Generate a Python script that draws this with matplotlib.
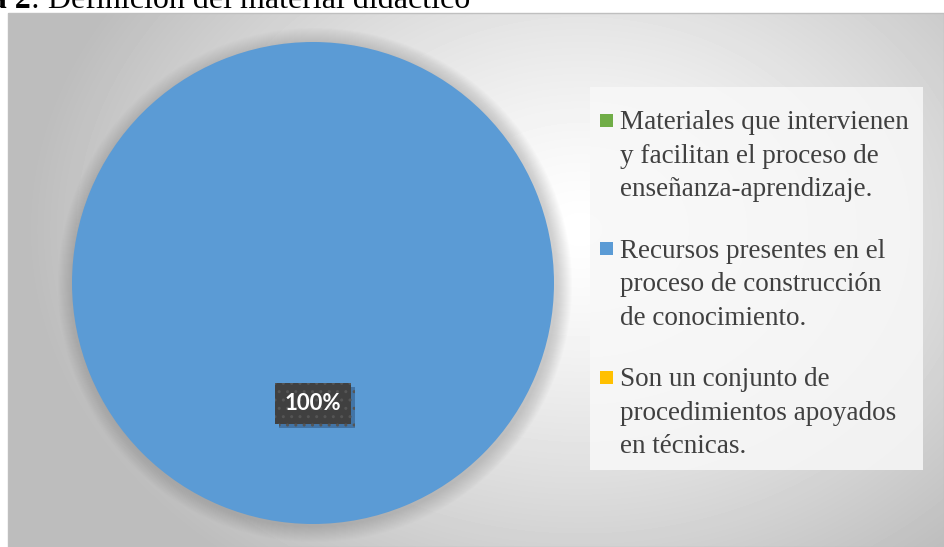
import numpy as np
import matplotlib.pyplot as plt
import matplotlib.patheffects as pe
from matplotlib.patches import Rectangle, Circle

categorias = ["Materiales que intervienen\ny facilitan el proceso de\nenseñanza-aprendizaje.",
              "Recursos presentes en el\nproceso de construcción\nde conocimiento.",
              "Son un conjunto de\nprocedimientos apoyados\nen técnicas."]
valores = [0, 100, 0]
colores = ["#70AD47", "#5B9BD5", "#FFC000"]
titulo_num = "Figura 2"
titulo = ": Definición del material didáctico"

W, H = 944, 547
fig = plt.figure(figsize=(W / 100, H / 100), dpi=100)
ax = fig.add_axes([0, 0, 1, 1])

# fondo con degradado radial
fx0, fx1, fy0, fy1 = 8, W, 0, H - 13
yy, xx = np.mgrid[fy0:fy1, fx0:fx1]
d = np.sqrt((xx - 580) ** 2 + ((yy - (H - 230)) * 1.3) ** 2)
g = np.clip(1.0 - 0.24 * (d / 520) ** 1.3, 0.74, 1.0)
ax.imshow(g, cmap='gray', vmin=0, vmax=1, extent=(fx0, fx1, fy0, fy1),
          origin='lower', aspect='auto', zorder=0)
ax.add_patch(Rectangle((fx0, fy0), fx1 - fx0, fy1 - fy0, fill=False,
                       edgecolor='#BFBFBF', lw=1, zorder=1))

cx, cy, r = 313, H - 283, 241
# sombra difusa
for i in range(16):
    ax.add_patch(Circle((cx + 2, cy - 2), r + 16 - i, color='#808080', alpha=0.022, lw=0, zorder=1))

def pct(p):
    return '%.0f%%' % p if p > 0 else ''

wedges, textos, autotextos = ax.pie(valores, colors=colores, startangle=90, counterclock=False,
                                    center=(cx, cy), radius=r, frame=True,
                                    autopct=pct, pctdistance=0.50,
                                    wedgeprops=dict(lw=0))
for w in wedges:
    w.set_zorder(2)
for t in autotextos:
    t.set_color('white')
    t.set_fontsize(16)
    t.set_fontweight('bold')
    t.set_family(['Lato', 'DejaVu Sans'])
    t.set_zorder(5)
    t.set_bbox(dict(boxstyle='square,pad=0.45', fc='#404040', ec='#555555', lw=0, hatch='..'))
    t.get_bbox_patch().set_path_effects([
        pe.SimplePatchShadow(offset=(3, -3), shadow_rgbFace='#2a4f78', alpha=0.5), pe.Normal()])

ax.set_xlim(0, W)
ax.set_ylim(0, H)
ax.axis('off')

# leyenda
ax.add_patch(Rectangle((590, H - 470), 333, 470 - 87, fc='#F8F8F8', ec='none', alpha=0.85, zorder=2))
for i, (lab, col) in enumerate(zip(categorias, colores)):
    yc = H - (120 + 128.5 * i)
    ax.add_patch(Rectangle((600, yc - 6.5), 13, 13, fc=col, ec='none', zorder=3))
    ax.text(620, yc + 10, lab, fontsize=19.5, family='Liberation Serif', color='#404040',
            ha='left', va='top', linespacing=1.45, zorder=3)

fig.text(31 / W, 1 - 8 / H, titulo_num, fontsize=23, family='Liberation Serif',
         fontweight='bold', ha='right', va='baseline')
fig.text(31 / W, 1 - 8 / H, titulo, fontsize=23, family='Liberation Serif',
         ha='left', va='baseline')

fig.savefig('out.png', dpi=100)
